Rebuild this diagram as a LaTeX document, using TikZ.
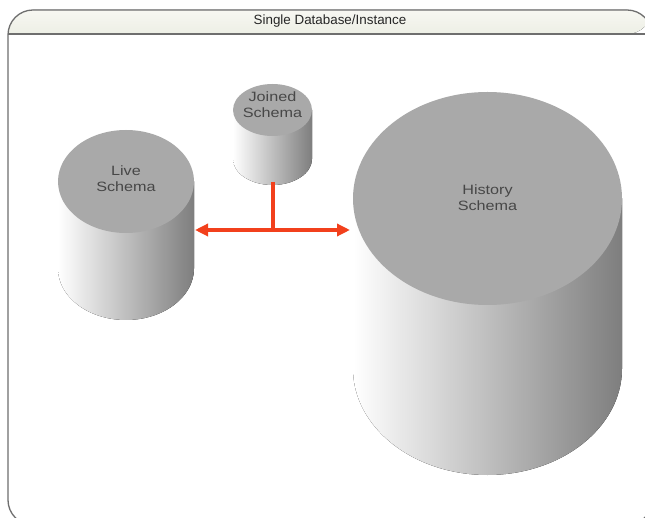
\documentclass[tikz,border=0pt]{standalone}
\usepackage{fontspec}
\setmainfont{Liberation Sans}
\usetikzlibrary{arrows.meta}
\definecolor{framegray}{HTML}{6E6E6E}
\definecolor{titletop}{HTML}{F7F7F2}
\definecolor{titlebot}{HTML}{EDEFE5}
\definecolor{topgray}{HTML}{A9A9A9}
\definecolor{sidegray}{HTML}{7E7E7E}
\definecolor{textgray}{HTML}{474747}
\definecolor{linkred}{HTML}{F2401C}

% cylinder: centre x, centre y of top face, x radius, y radius, depth
\newcommand\dbcylinder[5]{%
  \fill[side face] (#1-#3,#2) -- (#1-#3,#2+#5)
    arc[start angle=180, end angle=0, x radius=#3, y radius=#4]
    -- (#1+#3,#2) -- cycle;
  \fill[top face] (#1,#2) ellipse[x radius=#3, y radius=#4];
}

\begin{document}
\begin{tikzpicture}[x=1pt,y=-1pt,
  frame/.style={draw=framegray, line width=1.3pt, rounded corners=25pt},
  title bar/.style={top color=titletop, bottom color=titlebot},
  bar line/.style={draw=framegray, line width=1.8pt},
  title text/.style={font=\fontsize{13.4}{16}\selectfont, text=black!85},
  top face/.style={fill=topgray},
  side face/.style={left color=white, right color=sidegray},
  schema label/.style={font=\fontsize{13.5}{16}\selectfont, text=textgray,
    align=center, xscale=1.2, inner sep=0pt},
  link/.style={draw=linkred, line width=4pt},
  >={Triangle[length=13pt,width=12pt]}]

  \useasboundingbox (0,0) rectangle (645,518);
  \clip (0,0) rectangle (645,518);
  \fill[white] (0,0) rectangle (645,518);

  % outer frame with its title bar
  \fill[title bar] (8,34) {[rounded corners=25pt] -- (8,10) -- (652,10) -- (652,34)} -- cycle;
  \draw[frame] (8,10) rectangle (652,525);
  \draw[bar line] (8,34) -- (652,34);
  \node[title text] (title) at (330,21) {Single Database/Instance};

  % the three schemas
  \dbcylinder{126}{181.5}{68}{51.5}{87}
  \dbcylinder{272.5}{110}{39.5}{26}{49}
  \dbcylinder{487.5}{198.5}{134.5}{106.5}{170}

  \node[schema label] (live) at (126,179) {Live\\Schema};
  \node[schema label] (joined) at (272.5,104.5) {Joined\\Schema};
  \node[schema label] (history) at (487.5,198) {History\\Schema};

  % connectors
  \coordinate (joinedFoot) at (272.5,182);
  \coordinate (liveSide) at (195,230);
  \coordinate (historySide) at (350,230);
  \coordinate (junction) at (joinedFoot |- liveSide);

  \draw[link] (joinedFoot) -- (junction);
  \draw[link, <->] (liveSide) -- (historySide);
\end{tikzpicture}
\end{document}
